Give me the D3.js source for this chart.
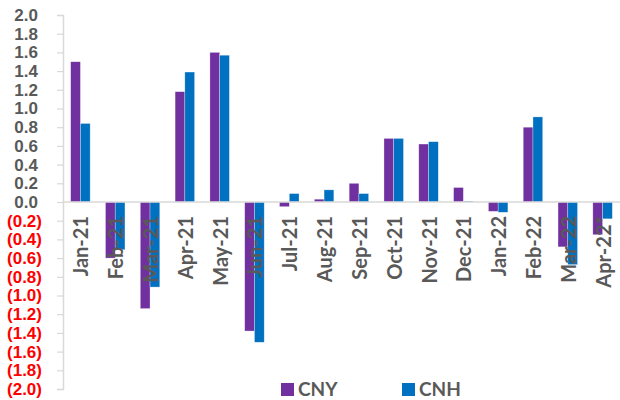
<!DOCTYPE html>
<html>
<head>
<meta charset="utf-8">
<script src="https://cdn.jsdelivr.net/npm/d3@7"></script>
<style>
  body { margin: 0; background: #fff; }
  svg { display: block; font-family: Lato, "Open Sans", sans-serif; }
</style>
</head>
<body>
<svg id="chart" width="620" height="400"></svg>
<script>
var months = ['Jan-21', 'Feb-21', 'Mar-21', 'Apr-21', 'May-21', 'Jun-21', 'Jul-21', 'Aug-21',
    'Sep-21', 'Oct-21', 'Nov-21', 'Dec-21', 'Jan-22', 'Feb-22', 'Mar-22', 'Apr-22*'];
var cny = [1.50, -0.60, -1.14, 1.18, 1.60, -1.38, -0.05, 0.03, 0.20, 0.68, 0.62, 0.155, -0.10, 0.80, -0.48, -0.35];
var cnh = [0.84, -0.51, -0.91, 1.39, 1.57, -1.50, 0.09, 0.13, 0.09, 0.68, 0.645, 0.01, -0.11, 0.91, -0.67, -0.18];
var seriesNames = ['CNY', 'CNH'];
var seriesColors = ['#7030A0', '#0070C0'];
var yTicks = [2.0, 1.8, 1.6, 1.4, 1.2, 1.0, 0.8, 0.6, 0.4, 0.2, 0.0, -0.2, -0.4, -0.6, -0.8, -1.0, -1.2, -1.4, -1.6, -1.8, -2.0];

var svg = d3.select('#chart'),
    plotLeft = 63,
    plotRight = 620,
    plotTop = 15,
    plotBottom = 389;

var x = d3.scaleBand()
    .domain(months)
    .range([plotLeft, plotRight])
    .paddingInner(0.44)
    .paddingOuter(0.22);

var xSub = d3.scaleBand()
    .domain(seriesNames)
    .range([0, x.bandwidth()]);

var y = d3.scaleLinear()
    .domain([-2, 2])
    .range([plotBottom, plotTop]);

var rows = months.map(function(m, i) {
    return { month: m, values: [cny[i], cnh[i]] };
});

// y axis
var yAxis = svg.append('g')
    .attr('transform', 'translate(' + plotLeft + ',0)')
    .call(d3.axisLeft(y).tickValues(yTicks).tickSize(6).tickPadding(20)
        .tickFormat(function(d) {
            var s = Math.abs(d).toFixed(1);
            return d < 0 ? '(' + s + ')' : s;
        }));

yAxis.select('.domain').attr('stroke', '#d9d9d9').attr('stroke-width', 1.5);
yAxis.selectAll('.tick line').attr('stroke', '#d9d9d9').attr('stroke-width', 1.2);
yAxis.selectAll('.tick text')
    .attr('font-size', 17)
    .attr('font-weight', 'bold')
    .attr('fill', function(d) { return d < 0 ? '#ff0000' : '#595959'; })
    .attr('x', function(d) { return d < 0 ? -21 : -25; });

// bars
var groups = svg.append('g')
    .selectAll('g')
    .data(rows)
    .enter().append('g')
    .attr('transform', function(d) { return 'translate(' + x(d.month) + ',0)'; });

groups.selectAll('rect')
    .data(function(d) { return d.values.map(function(v, j) { return { name: seriesNames[j], value: v, color: seriesColors[j] }; }); })
    .enter().append('rect')
    .attr('x', function(d) { return xSub(d.name); })
    .attr('y', function(d) { return y(Math.max(0, d.value)); })
    .attr('width', xSub.bandwidth())
    .attr('height', function(d) { return Math.abs(y(d.value) - y(0)); })
    .attr('fill', function(d) { return d.color; })
    .attr('stroke', '#ffffff')
    .attr('stroke-opacity', 0.5)
    .attr('stroke-width', 0.6);

// zero line
svg.append('line')
    .attr('x1', plotLeft)
    .attr('x2', plotRight)
    .attr('y1', y(0))
    .attr('y2', y(0))
    .attr('stroke', '#d9d9d9')
    .attr('stroke-width', 1.5);

// month labels (rotated)
svg.append('g')
    .selectAll('text')
    .data(months)
    .enter().append('text')
    .attr('transform', function(d) { return 'translate(' + (x(d) + x.bandwidth() / 2 + 8) + ',' + (y(0) + 14) + ') rotate(-90)'; })
    .attr('text-anchor', 'end')
    .attr('font-size', 20)
    .attr('font-weight', 'bold')
    .attr('fill', '#595959')
    .text(function(d) { return d; });

// legend
var legend = svg.append('g')
    .selectAll('g')
    .data(seriesNames)
    .enter().append('g')
    .attr('transform', function(d, i) { return 'translate(' + (281 + i * 121) + ',383)'; });

legend.append('rect')
    .attr('width', 13)
    .attr('height', 13)
    .attr('fill', function(d, i) { return seriesColors[i]; });

legend.append('text')
    .attr('x', 17)
    .attr('y', 12.5)
    .attr('font-size', 19)
    .attr('font-weight', 'bold')
    .attr('fill', '#595959')
    .text(function(d) { return d; });
</script>
</body>
</html>
